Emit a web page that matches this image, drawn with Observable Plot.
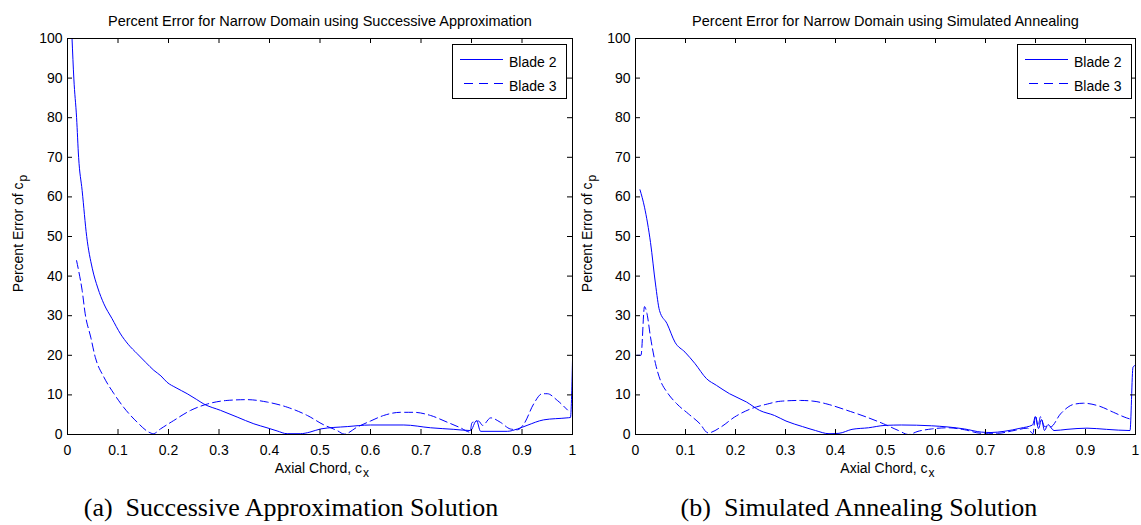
<!DOCTYPE html>
<html>
<head>
<meta charset="utf-8">
<script src="https://cdn.jsdelivr.net/npm/d3@7"></script>
<script src="https://cdn.jsdelivr.net/npm/@observablehq/plot@0.6"></script>
<style>
  body { margin: 0; background: #fff; }
  #fig { position: relative; width: 1141px; height: 525px; overflow: hidden; }
  .panel { position: absolute; top: 0; }
  #overlay { position: absolute; left: 0; top: 0; pointer-events: none; }
</style>
</head>
<body>
<div id="fig"></div>
<script>
// Axis ticks and their labels
const xTicks = [0, 0.1, 0.2, 0.3, 0.4, 0.5, 0.6, 0.7, 0.8, 0.9, 1];
const xTickLabels = ["0", "0.1", "0.2", "0.3", "0.4", "0.5", "0.6", "0.7", "0.8", "0.9", "1"];
const yTicks = [0, 10, 20, 30, 40, 50, 60, 70, 80, 90, 100];
const yTickLabels = ["0", "10", "20", "30", "40", "50", "60", "70", "80", "90", "100"];

const seriesNames = ["Blade 2", "Blade 3"];
const panelTitles = [
  "Percent Error for Narrow Domain using Successive Approximation",
  "Percent Error for Narrow Domain using Simulated Annealing"
];
const captions = ["(a)  Successive Approximation Solution", "(b)  Simulated Annealing Solution"];

// (a) Successive approximation: percent error of c_p vs axial chord
const saChord2 = [0.009, 0.0125, 0.018, 0.022, 0.029, 0.038, 0.049, 0.060, 0.072, 0.088, 0.105, 0.120, 0.138, 0.155, 0.171, 0.185, 0.197, 0.215, 0.237, 0.255, 0.270, 0.303, 0.336, 0.369, 0.395, 0.415, 0.435, 0.461, 0.480, 0.501, 0.554, 0.600, 0.666, 0.719, 0.765, 0.798, 0.810, 0.818, 0.871, 0.891, 0.910, 0.943, 0.989, 0.996, 1.0];
const saError2 = [100, 90, 80, 70, 61.6, 50, 42, 37, 33, 29.3, 25.4, 22.8, 20.4, 18.2, 16.2, 14.8, 13.2, 11.8, 10.3, 8.9, 7.7, 6.1, 4.4, 2.7, 1.7, 0.9, 0.2, 0.2, 0.6, 1.4, 2.0, 2.4, 2.4, 1.7, 1.3, 1.0, 3.5, 0.8, 0.8, 1.4, 2.3, 3.7, 4.2, 4.3, 18.7];
const saChord3 = [0.018, 0.022, 0.029, 0.035, 0.046, 0.055, 0.072, 0.092, 0.111, 0.138, 0.161, 0.170, 0.184, 0.210, 0.244, 0.277, 0.316, 0.356, 0.395, 0.435, 0.475, 0.508, 0.534, 0.548, 0.574, 0.600, 0.626, 0.659, 0.686, 0.719, 0.752, 0.778, 0.797, 0.801, 0.814, 0.822, 0.838, 0.857, 0.877, 0.891, 0.904, 0.923, 0.940, 0.950, 0.970, 0.990];
const saError3 = [43.9, 41.4, 36.4, 30.5, 24.6, 19.5, 14.5, 10.3, 6.9, 3.1, 0.6, 0.2, 1.4, 3.5, 6.1, 7.7, 8.6, 8.8, 8.2, 6.9, 4.8, 2.4, 1.0, 0.1, 1.9, 3.4, 4.8, 5.6, 5.6, 4.8, 3.1, 1.7, 0.6, 3.0, 3.4, 2.3, 4.2, 3.1, 1.4, 1.2, 2.7, 7.7, 10.3, 10.3, 8.6, 6.2];

// (b) Simulated annealing: percent error of c_p vs axial chord
const anChord2 = [0.009, 0.018, 0.030, 0.040, 0.048, 0.063, 0.079, 0.099, 0.119, 0.142, 0.162, 0.188, 0.222, 0.248, 0.278, 0.301, 0.334, 0.360, 0.387, 0.407, 0.433, 0.466, 0.499, 0.532, 0.592, 0.625, 0.658, 0.692, 0.711, 0.737, 0.770, 0.794, 0.800, 0.806, 0.812, 0.818, 0.825, 0.837, 0.863, 0.903, 0.942, 0.989, 0.995, 1.0];
const anError2 = [61.8, 57.4, 48.5, 38.0, 31.3, 28.0, 23.3, 20.8, 17.9, 14.1, 12.4, 10.3, 8.2, 6.1, 4.8, 3.4, 2.0, 1.0, 0.2, 0.3, 1.3, 1.7, 2.3, 2.4, 2.2, 1.9, 1.4, 0.6, 0.5, 0.8, 1.6, 2.4, 4.5, 1.5, 3.8, 1.0, 2.5, 1.0, 1.3, 1.6, 1.3, 1.0, 17, 17.5];
const anChord3 = [0.003, 0.011, 0.018, 0.023, 0.030, 0.040, 0.050, 0.063, 0.083, 0.106, 0.129, 0.145, 0.171, 0.198, 0.231, 0.264, 0.290, 0.330, 0.357, 0.383, 0.423, 0.462, 0.496, 0.526, 0.546, 0.565, 0.592, 0.625, 0.658, 0.692, 0.724, 0.757, 0.784, 0.795, 0.800, 0.805, 0.810, 0.818, 0.830, 0.850, 0.876, 0.896, 0.929, 0.956, 0.982, 0.992];
const anError3 = [20, 20, 32.3, 30.5, 24.6, 17.9, 13.6, 10.7, 7.7, 5.2, 2.7, 0.4, 1.9, 4.4, 6.5, 7.7, 8.4, 8.6, 8.4, 7.7, 6.1, 4.4, 2.7, 1.0, 0, 0.8, 1.4, 1.7, 1.2, 0.3, 0.3, 1.0, 1.6, 0.2, 4.8, 2.0, 4.5, 2.0, 1.9, 5.2, 7.6, 7.9, 7.1, 5.6, 4.2, 3.8];

const BLUE = "#0000ff";
const DASH = "8,4";
const FONT = "'Liberation Sans', Arial, Helvetica, sans-serif";

const rows = (xs, ys) => xs.map((x, i) => ({x, y: ys[i]}));

function panel({title, blade2, blade3, width, marginLeft, marginRight, left, yLabelDx}) {
  const height = 475, marginTop = 38, marginBottom = 41;
  const plotW = width - marginLeft - marginRight;
  const plotH = height - marginTop - marginBottom;
  const chart = Plot.plot({
    width, height, marginTop, marginBottom, marginLeft, marginRight,
    style: {fontFamily: FONT, fontSize: "14px", color: "#000", background: "transparent", overflow: "visible"},
    x: {domain: [0, 1]},
    y: {domain: [0, 100]},
    marks: [
      // data
      Plot.line(blade2, {x: "x", y: "y", stroke: BLUE, strokeWidth: 1, curve: "monotone-x"}),
      Plot.line(blade3, {x: "x", y: "y", stroke: BLUE, strokeWidth: 1, curve: "monotone-x", strokeDasharray: DASH}),
      // box with inward ticks on all four sides
      Plot.frame({stroke: "#000", strokeWidth: 1}),
      Plot.tickX(xTicks, {x: d => d, insetTop: plotH - 5, stroke: "#000"}),
      Plot.tickX(xTicks, {x: d => d, insetBottom: plotH - 5, stroke: "#000"}),
      Plot.tickY(yTicks, {y: d => d, insetRight: plotW - 5, stroke: "#000"}),
      Plot.tickY(yTicks, {y: d => d, insetLeft: plotW - 5, stroke: "#000"}),
      Plot.axisX(xTicks, {tickSize: 0, tickPadding: 11, label: null,
        tickFormat: d => xTickLabels[xTicks.indexOf(d)]}),
      Plot.axisY(yTicks, {tickSize: 0, tickPadding: 5, label: null,
        tickFormat: d => yTickLabels[yTicks.indexOf(d)]}),
      // title
      Plot.text([title], {frameAnchor: "top", text: d => d, dy: -13, lineAnchor: "bottom", fontSize: 14.5}),
      // x label: "Axial Chord, c" with subscript x
      Plot.text(["Axial Chord, c"], {frameAnchor: "bottom", text: d => d, textAnchor: "end", dx: 42, dy: 38, lineAnchor: "bottom"}),
      Plot.text(["x"], {frameAnchor: "bottom", text: d => d, textAnchor: "start", dx: 43, dy: 42, lineAnchor: "bottom", fontSize: 12}),
      // y label: "Percent Error of c" with subscript p
      Plot.text(["Percent Error of c"], {frameAnchor: "left", text: d => d, rotate: -90, textAnchor: "end", dx: yLabelDx, dy: -54, lineAnchor: "bottom"}),
      Plot.text(["p"], {frameAnchor: "left", text: d => d, rotate: -90, textAnchor: "start", dx: yLabelDx + 4, dy: -55, lineAnchor: "bottom", fontSize: 12})
    ]
  });
  chart.classList.add("panel");
  chart.style.left = left + "px";
  return chart;
}

const fig = document.getElementById("fig");
fig.appendChild(panel({
  title: panelTitles[0], blade2: rows(saChord2, saError2), blade3: rows(saChord3, saError3),
  width: 575, marginLeft: 67, marginRight: 3, left: 0, yLabelDx: -45
}));
fig.appendChild(panel({
  title: panelTitles[1], blade2: rows(anChord2, anError2), blade3: rows(anChord3, anError3),
  width: 566, marginLeft: 60, marginRight: 6, left: 575, yLabelDx: -44
}));

// Legends and sub-figure captions
const overlay = d3.select(fig).append("svg")
  .attr("id", "overlay").attr("width", 1141).attr("height", 525);

[452, 1017].forEach(x0 => {
  const g = overlay.append("g").attr("transform", `translate(${x0},44)`);
  g.append("rect").attr("x", 0.5).attr("y", 0.5).attr("width", 114).attr("height", 54)
    .attr("fill", "#fff").attr("stroke", "#000");
  g.append("line").attr("x1", 8).attr("x2", 51).attr("y1", 15.5).attr("y2", 15.5)
    .attr("stroke", BLUE).attr("stroke-width", 1);
  g.append("line").attr("x1", 12).attr("x2", 51).attr("y1", 39.5).attr("y2", 39.5)
    .attr("stroke", BLUE).attr("stroke-width", 1).attr("stroke-dasharray", "9,6");
  seriesNames.forEach((name, i) => {
    g.append("text").attr("x", 57).attr("y", 23 + 24 * i)
      .attr("font-family", FONT).attr("font-size", 14).attr("fill", "#000").text(name);
  });
});

[291, 859].forEach((cx, i) => {
  overlay.append("text").attr("x", cx).attr("y", 516).attr("text-anchor", "middle")
    .attr("font-family", "'Liberation Serif', 'Times New Roman', serif").attr("font-size", 26)
    .attr("fill", "#000").attr("xml:space", "preserve").style("white-space", "pre").text(captions[i]);
});
</script>
</body>
</html>
